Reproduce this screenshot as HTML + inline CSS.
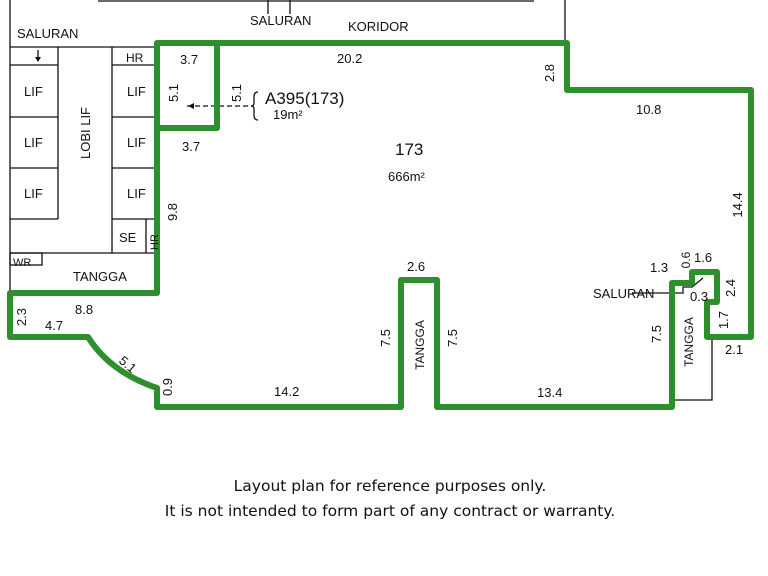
<!DOCTYPE html>
<html><head><meta charset="utf-8"><style>
html,body{margin:0;padding:0;background:#fff;}
svg{display:block}
text{font-family:"Liberation Sans",sans-serif;fill:#111;}
.cap{font-family:"DejaVu Sans","Liberation Sans",sans-serif;font-size:15.5px;fill:#111}
</style></head><body>
<svg width="768" height="576" viewBox="0 0 768 576" xmlns="http://www.w3.org/2000/svg">
<rect width="768" height="576" fill="#fff"/>
<g stroke="#111" stroke-width="1.3" fill="none">
<!-- top lines -->
<line x1="98" y1="1" x2="534" y2="1"/>
<line x1="565" y1="0" x2="565" y2="43"/>
<line x1="268" y1="0" x2="268" y2="14"/>
<line x1="290" y1="0" x2="290" y2="14"/>
<!-- left core -->
<line x1="10" y1="0" x2="10" y2="293"/>
<line x1="10" y1="47" x2="157" y2="47"/>
<line x1="10" y1="65" x2="58" y2="65"/>
<line x1="10" y1="117" x2="58" y2="117"/>
<line x1="10" y1="168" x2="58" y2="168"/>
<line x1="10" y1="219" x2="58" y2="219"/>
<line x1="58" y1="47" x2="58" y2="219"/>
<line x1="112" y1="47" x2="112" y2="253"/>
<line x1="112" y1="65" x2="157" y2="65"/>
<line x1="112" y1="117" x2="157" y2="117"/>
<line x1="112" y1="168" x2="157" y2="168"/>
<line x1="112" y1="219" x2="157" y2="219"/>
<line x1="146" y1="219" x2="146" y2="253"/>
<line x1="10" y1="253" x2="157" y2="253"/>
<rect x="10" y="253" width="32" height="12"/>
<!-- right bottom thin -->
<polyline points="712,337 712,400 672,400"/>
<!-- arrows -->
<line x1="38" y1="50" x2="38" y2="60"/>
<line x1="187" y1="106" x2="252" y2="106" stroke-dasharray="5,3"/>
<line x1="632" y1="293" x2="672" y2="293"/>
<polyline points="672,293 683,293 683,287 692,287 703,278" />
</g>
<path d="M38,62 l-3,-5 h6z" fill="#111"/>
<path d="M188,106 l6,-3 v6z" fill="#111"/>
<path d="M258,92 q-4,0 -4,5 v6 q0,3 -3,3 q3,0 3,3 v6 q0,5 4,5" fill="none" stroke="#111" stroke-width="1.3"/>
<!-- green outline -->
<g fill="none" stroke="#2e8f2e" stroke-width="6" stroke-linejoin="round">
<path d="M157,43 H567 V90 H751 V337 H707 V302 H717 V272 H692 V283 H672 V407 H437 V280 H401 V407 H157 V388 Q110,372 88,337 H10 V293 H157 Z"/>
<path d="M217,43 V128 H160"/>
</g>
<!-- labels -->
<g font-size="13">
<text x="250" y="25">SALURAN</text>
<text x="348" y="31">KORIDOR</text>
<text x="17" y="38">SALURAN</text>
<text x="126" y="62" font-size="12">HR</text>
<text x="24" y="96">LIF</text><text x="24" y="147">LIF</text><text x="24" y="198">LIF</text>
<text x="127" y="96">LIF</text><text x="127" y="147">LIF</text><text x="127" y="198">LIF</text>
<text x="119" y="242">SE</text>
<text x="13" y="266" font-size="11">WR</text>
<text x="73" y="281">TANGGA</text>
<text x="90" y="133" transform="rotate(-90 90 133)" text-anchor="middle">LOBI LIF</text>
<text x="158" y="242" font-size="11" transform="rotate(-90 158 242)" text-anchor="middle">HR</text>
<text x="180" y="64">3.7</text>
<text x="182" y="151">3.7</text>
<text x="178" y="93" transform="rotate(-90 178 93)" text-anchor="middle">5.1</text>
<text x="241" y="93" transform="rotate(-90 241 93)" text-anchor="middle">5.1</text>
<text x="265" y="104" font-size="17">A395(173)</text>
<text x="273" y="119">19m²</text>
<text x="337" y="63">20.2</text>
<text x="554" y="73" transform="rotate(-90 554 73)" text-anchor="middle">2.8</text>
<text x="636" y="114">10.8</text>
<text x="395" y="155" font-size="17">173</text>
<text x="388" y="181">666m²</text>
<text x="742" y="205" transform="rotate(-90 742 205)" text-anchor="middle">14.4</text>
<text x="177" y="212" transform="rotate(-90 177 212)" text-anchor="middle">9.8</text>
<text x="75" y="314">8.8</text>
<text x="45" y="330">4.7</text>
<text x="26" y="317" transform="rotate(-90 26 317)" text-anchor="middle">2.3</text>
<text x="118" y="362" transform="rotate(40 118 362)">5.1</text>
<text x="172" y="387" transform="rotate(-90 172 387)" text-anchor="middle">0.9</text>
<text x="274" y="396">14.2</text>
<text x="407" y="271">2.6</text>
<text x="390" y="338" transform="rotate(-90 390 338)" text-anchor="middle">7.5</text>
<text x="457" y="338" transform="rotate(-90 457 338)" text-anchor="middle">7.5</text>
<text x="424" y="345" font-size="12" transform="rotate(-90 424 345)" text-anchor="middle">TANGGA</text>
<text x="537" y="397">13.4</text>
<text x="661" y="334" transform="rotate(-90 661 334)" text-anchor="middle">7.5</text>
<text x="693" y="342" font-size="12" transform="rotate(-90 693 342)" text-anchor="middle">TANGGA</text>
<text x="650" y="272">1.3</text>
<text x="690" y="260" font-size="12" transform="rotate(-90 690 260)" text-anchor="middle">0.6</text>
<text x="694" y="262">1.6</text>
<text x="593" y="298">SALURAN</text>
<text x="690" y="301">0.3</text>
<text x="735" y="288" transform="rotate(-90 735 288)" text-anchor="middle">2.4</text>
<text x="728" y="320" transform="rotate(-90 728 320)" text-anchor="middle">1.7</text>
<text x="725" y="354">2.1</text>
</g>
<text class="cap" x="390" y="491" text-anchor="middle">Layout plan for reference purposes only.</text>
<text class="cap" x="390" y="516" text-anchor="middle">It is not intended to form part of any contract or warranty.</text>
</svg>
</body></html>
